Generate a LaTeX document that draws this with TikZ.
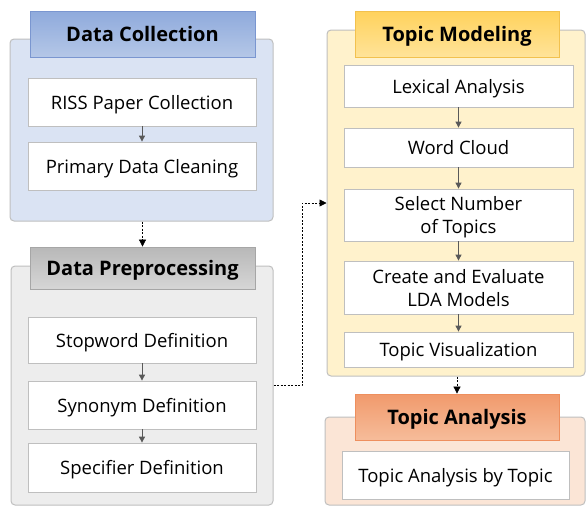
\documentclass[tikz,border=0pt]{standalone}
\usepackage{fontspec}
\setmainfont{Open Sans}
\usetikzlibrary{arrows.meta}
\definecolor{dcfill}{HTML}{DAE3F3}
\definecolor{dcheadT}{HTML}{8FAADC}
\definecolor{dcheadB}{HTML}{B4C7E7}
\definecolor{dcheadD}{HTML}{7A96D0}
\definecolor{dpfill}{HTML}{EDEDED}
\definecolor{dpheadT}{HTML}{B8B8B8}
\definecolor{dpheadB}{HTML}{D6D6D6}
\definecolor{dpheadD}{HTML}{A6A6A6}
\definecolor{tmfill}{HTML}{FFF2CC}
\definecolor{tmheadT}{HTML}{FFD25C}
\definecolor{tmheadB}{HTML}{FFE399}
\definecolor{tmheadD}{HTML}{F2C14E}
\definecolor{tafill}{HTML}{FBE5D6}
\definecolor{taheadT}{HTML}{F19A6C}
\definecolor{taheadB}{HTML}{F6BC9A}
\definecolor{taheadD}{HTML}{EE8F5E}
\definecolor{panelborder}{HTML}{BFBFBF}
\definecolor{boxborder}{HTML}{BFBFBF}
\definecolor{arrowgray}{HTML}{595959}
\tikzset{
  panel/.style={draw=panelborder, line width=1pt, rounded corners=4pt, inner sep=0pt},
  header/.style={draw=#1headD, line width=0.8pt, top color=#1headT, bottom color=#1headB, inner sep=0pt,
    text depth=0pt, font=\fontsize{20}{24}\selectfont\bfseries},
  stepbox/.style={draw=boxborder, line width=0.8pt, fill=white, inner sep=0pt, align=center,
    text depth=0pt, font=\fontsize{18.5}{23}\selectfont},
  flow/.style={draw=arrowgray, line width=0.9pt, -{Triangle[length=6pt,width=6pt]}},
  link/.style={draw=black, line width=0.7pt, dash pattern=on 2pt off 1.5pt, -{Triangle[length=7pt,width=7pt]}},
}
\begin{document}
\begin{tikzpicture}[x=1pt,y=-1pt]
\useasboundingbox (0,0) rectangle (587,507);
% Data Collection
\node[panel, fill=dcfill, minimum width=263pt, minimum height=182pt] (dcp) at (141.5,130) {};
\node[header=dc, minimum width=225pt, minimum height=46pt] (dch) at (142.5,34) {Data Collection};
\node[stepbox, minimum width=228pt, minimum height=48pt] (dc1) at (142,102) {RISS Paper Collection};
\node[stepbox, minimum width=228pt, minimum height=48pt] (dc2) at (142,166) {Primary Data Cleaning};
% Data Preprocessing
\node[panel, fill=dpfill, minimum width=262pt, minimum height=239pt] (dpp) at (142,385.5) {};
\node[header=dp, minimum width=225pt, minimum height=42pt] (dph) at (142.5,268) {Data Preprocessing};
\node[stepbox, minimum width=228pt, minimum height=46pt] (dp1) at (142,340) {Stopword Definition};
\node[stepbox, minimum width=228pt, minimum height=48pt] (dp2) at (142,405) {Synonym Definition};
\node[stepbox, minimum width=228pt, minimum height=49pt] (dp3) at (142,467.5) {Specifier Definition};
% Topic Modeling
\node[panel, fill=tmfill, minimum width=258pt, minimum height=346pt] (tmp) at (456,203) {};
\node[header=tm, minimum width=204pt, minimum height=46pt] (tmh) at (457,34) {Topic Modeling};
\node[stepbox, minimum width=229pt, minimum height=42pt] (tm1) at (458.5,86) {Lexical Analysis};
\node[stepbox, minimum width=229pt, minimum height=39pt] (tm2) at (458.5,147.5) {Word Cloud};
\node[stepbox, minimum width=229pt, minimum height=52pt] (tm3) at (458.5,215) {Select Number\\of Topics};
\node[stepbox, minimum width=229pt, minimum height=53pt] (tm4) at (458.5,287.5) {Create and Evaluate\\LDA Models};
\node[stepbox, minimum width=229pt, minimum height=35pt] (tm5) at (458.5,349.5) {Topic Visualization};
% Topic Analysis
\node[panel, fill=tafill, minimum width=260pt, minimum height=88pt] (tap) at (455,461) {};
\node[header=ta, minimum width=204pt, minimum height=46pt] (tah) at (457,417) {Topic Analysis};
\node[stepbox, minimum width=227pt, minimum height=48pt] (ta1) at (455.5,475) {Topic Analysis by Topic};
% inner arrows
\draw[flow] (dc1) -- (dc2);
\draw[flow] (dp1) -- (dp2);
\draw[flow] (dp2) -- (dp3);
\draw[flow] (tm1) -- (tm2);
\draw[flow] (tm2) -- (tm3);
\draw[flow] (tm3) -- (tm4);
\draw[flow] (tm4) -- (tm5);
% links
\draw[link] (dcp.south -| dch.north) -- (dch.north |- dph.north);
\coordinate (bend) at (302,385.5);
\draw[link] (dpp.east) -- (bend) |- (tmp.west);
\draw[link] (tmp.south -| tah.north) -- (tah.north);
\end{tikzpicture}
\end{document}
